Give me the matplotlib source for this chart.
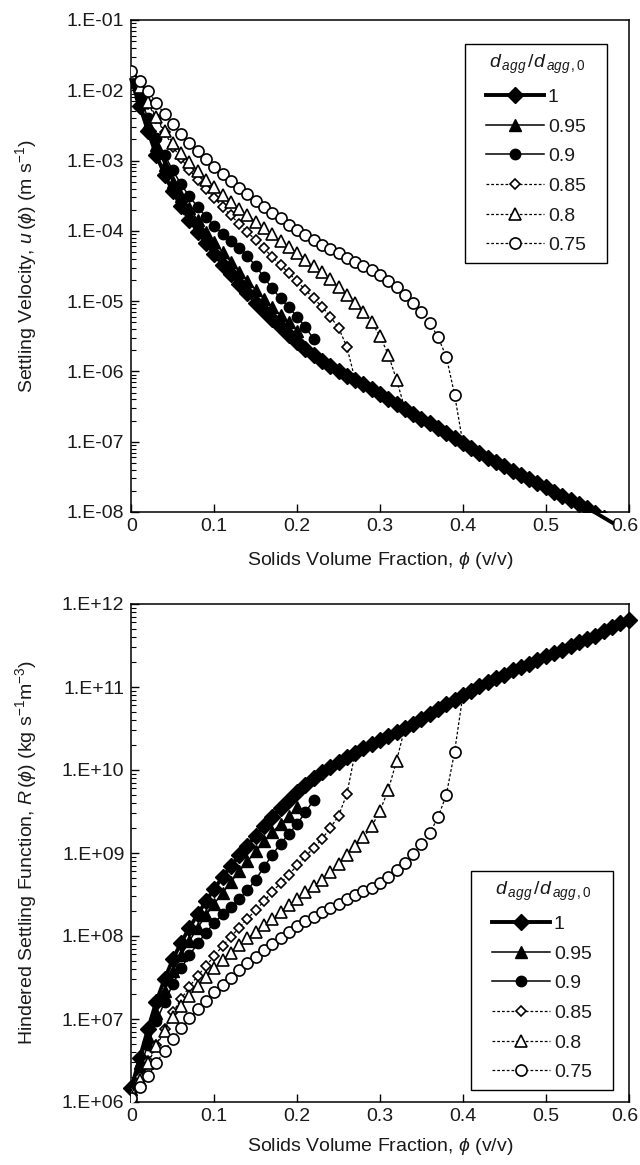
import matplotlib
matplotlib.use('Agg')
import matplotlib.pyplot as plt
import matplotlib.transforms as mtransforms
import numpy as np
from matplotlib.ticker import FuncFormatter, NullFormatter, FixedLocator
from matplotlib.lines import Line2D

plt.rcParams['font.family'] = ['Liberation Sans', 'DejaVu Sans']
plt.rcParams['mathtext.fontset'] = 'custom'
plt.rcParams['mathtext.rm'] = 'Liberation Sans'
plt.rcParams['mathtext.it'] = 'Liberation Sans:italic'
plt.rcParams['mathtext.bf'] = 'Liberation Sans:bold'

# ---------------- data ----------------
PHI = [0.00, 0.01, 0.02, 0.03, 0.04, 0.05, 0.06, 0.07, 0.08, 0.09,
       0.10, 0.11, 0.12, 0.13, 0.14, 0.15, 0.16, 0.17, 0.18, 0.19,
       0.20, 0.21, 0.22, 0.23, 0.24, 0.25, 0.26, 0.27, 0.28, 0.29,
       0.30, 0.31, 0.32, 0.33, 0.34, 0.35, 0.36, 0.37, 0.38, 0.39,
       0.40, 0.41, 0.42, 0.43, 0.44, 0.45, 0.46, 0.47, 0.48, 0.49,
       0.50, 0.51, 0.52, 0.53, 0.54, 0.55, 0.56, 0.57, 0.58, 0.59,
       0.60]

labels = ['1', '0.95', '0.9', '0.85', '0.8', '0.75']

# log10 of settling velocity u(phi) (m/s)
log_u_100 = [-1.85, -2.22, -2.58, -2.92, -3.20, -3.44, -3.65, -3.84, -4.01, -4.17,
             -4.33, -4.48, -4.62, -4.76, -4.89, -5.02, -5.14, -5.26, -5.37, -5.48,
             -5.58, -5.68, -5.77, -5.85, -5.92, -5.99, -6.06, -6.12, -6.18, -6.25,
             -6.32, -6.39, -6.46, -6.53, -6.60, -6.67, -6.74, -6.81, -6.88, -6.95,
             -7.02, -7.09, -7.16, -7.23, -7.29, -7.35, -7.41, -7.47, -7.53, -7.59,
             -7.65, -7.71, -7.77, -7.83, -7.89, -7.95, -8.01, -8.08, -8.15]
log_u_095 = [-1.84, -2.16, -2.48, -2.78, -3.06, -3.30, -3.50, -3.68, -3.85, -4.01,
             -4.16, -4.30, -4.44, -4.58, -4.71, -4.84, -4.97, -5.09, -5.20, -5.30,
             -5.42]
log_u_090 = [-1.82, -2.10, -2.39, -2.68, -2.92, -3.14, -3.34, -3.51, -3.66, -3.80,
             -3.93, -4.04, -4.14, -4.24, -4.36, -4.50, -4.66, -4.82, -4.96, -5.09,
             -5.22, -5.37, -5.54]
log_u_085 = [-1.80, -1.99, -2.19, -2.40, -2.60, -2.80, -2.97, -3.13, -3.27, -3.40,
             -3.53, -3.66, -3.78, -3.90, -4.02, -4.13, -4.25, -4.37, -4.49, -4.60,
             -4.72, -4.84, -4.96, -5.08, -5.22, -5.38, -5.65, -6.12]
log_u_080 = [-1.76, -1.96, -2.17, -2.38, -2.58, -2.75, -2.89, -3.02, -3.15, -3.27,
             -3.38, -3.49, -3.59, -3.69, -3.78, -3.87, -3.96, -4.05, -4.14, -4.23,
             -4.32, -4.41, -4.50, -4.59, -4.69, -4.80, -4.91, -5.03, -5.15, -5.30,
             -5.50, -5.76, -6.12, -6.53]
log_u_075 = [-1.73, -1.87, -2.01, -2.18, -2.34, -2.48, -2.62, -2.75, -2.87, -2.98,
             -3.09, -3.19, -3.29, -3.39, -3.48, -3.57, -3.66, -3.74, -3.82, -3.91,
             -3.99, -4.06, -4.13, -4.20, -4.26, -4.32, -4.38, -4.44, -4.50, -4.56,
             -4.63, -4.71, -4.80, -4.91, -5.03, -5.16, -5.31, -5.51, -5.79, -6.33,
             -7.02]

# log10 of hindered settling function R(phi) (kg s^-1 m^-3)
log_R_100 = [6.17, 6.53, 6.88, 7.21, 7.48, 7.72, 7.92, 8.10, 8.26, 8.42,
             8.57, 8.71, 8.84, 8.97, 9.09, 9.21, 9.32, 9.43, 9.54, 9.64,
             9.73, 9.82, 9.90, 9.97, 10.04, 10.10, 10.16, 10.21, 10.26, 10.31,
             10.36, 10.41, 10.46, 10.51, 10.56, 10.62, 10.67, 10.73, 10.79, 10.84,
             10.90, 10.95, 11.01, 11.06, 11.11, 11.15, 11.20, 11.24, 11.28, 11.33,
             11.37, 11.41, 11.45, 11.49, 11.54, 11.58, 11.62, 11.67, 11.72, 11.77,
             11.81]
log_R_095 = [6.16, 6.47, 6.78, 7.07, 7.34, 7.58, 7.77, 7.94, 8.10, 8.25,
             8.39, 8.52, 8.65, 8.78, 8.90, 9.02, 9.14, 9.25, 9.35, 9.44,
             9.55]
log_R_090 = [6.14, 6.41, 6.69, 6.97, 7.20, 7.42, 7.61, 7.77, 7.91, 8.04,
             8.16, 8.26, 8.35, 8.44, 8.55, 8.68, 8.83, 8.98, 9.11, 9.23,
             9.35, 9.49, 9.64]
log_R_085 = [6.12, 6.30, 6.49, 6.69, 6.88, 7.08, 7.24, 7.39, 7.52, 7.64,
             7.76, 7.88, 7.99, 8.10, 8.21, 8.31, 8.42, 8.53, 8.64, 8.74,
             8.85, 8.96, 9.06, 9.17, 9.30, 9.45, 9.71, 10.21]
log_R_080 = [6.08, 6.27, 6.47, 6.67, 6.86, 7.03, 7.16, 7.28, 7.40, 7.51,
             7.61, 7.71, 7.80, 7.89, 7.97, 8.05, 8.13, 8.21, 8.29, 8.37,
             8.45, 8.53, 8.60, 8.68, 8.77, 8.87, 8.97, 9.08, 9.19, 9.32,
             9.51, 9.76, 10.11, 10.51]
log_R_075 = [6.05, 6.18, 6.31, 6.47, 6.62, 6.76, 6.89, 7.01, 7.12, 7.22,
             7.32, 7.41, 7.50, 7.59, 7.67, 7.75, 7.83, 7.90, 7.97, 8.05,
             8.12, 8.18, 8.23, 8.29, 8.34, 8.39, 8.44, 8.49, 8.54, 8.58,
             8.64, 8.71, 8.79, 8.88, 8.99, 9.11, 9.24, 9.43, 9.70, 10.22,
             10.90]

x_ticks = [0, 0.1, 0.2, 0.3, 0.4, 0.5, 0.6]
x_tick_labels = ['0', '0.1', '0.2', '0.3', '0.4', '0.5', '0.6']
top_decades = [-8, -7, -6, -5, -4, -3, -2, -1]
bot_decades = [6, 7, 8, 9, 10, 11, 12]

top_series = [log_u_100, log_u_095, log_u_090, log_u_085, log_u_080, log_u_075]
bot_series = [log_R_100, log_R_095, log_R_090, log_R_085, log_R_080, log_R_075]
# last point of the dotted series is the junction with the master curve (no marker)
junction = [False, False, False, True, True, True]

# ---------------- styles ----------------
DOT = (0, (2.2, 1.6))
styles = [
    dict(marker='D', ms=8.5, mfc='black', mec='black', mew=1.0, ls='-', lw=2.8),
    dict(marker='^', ms=8, mfc='black', mec='black', mew=1.0, ls='-', lw=1.1),
    dict(marker='o', ms=7.5, mfc='black', mec='black', mew=1.0, ls='-', lw=1.1),
    dict(marker='D', ms=5.5, mfc='white', mec='black', mew=1.2, ls=DOT, lw=0.9),
    dict(marker='^', ms=8, mfc='white', mec='black', mew=1.2, ls=DOT, lw=0.9),
    dict(marker='o', ms=8, mfc='white', mec='black', mew=1.2, ls=DOT, lw=0.9),
]

TXT = '#1a1a1a'
FS = 14

W, H = 640, 1165
fig = plt.figure(figsize=(W / 100, H / 100), dpi=100)
ax1 = fig.add_axes([131.4 / W, 1 - 512 / H, 497.2 / W, 492 / H])
ax2 = fig.add_axes([131.4 / W, 1 - 1102 / H, 497.2 / W, 498 / H])


def draw(ax, series, clip_master_markers):
    for i, (vals, st) in enumerate(zip(series, styles)):
        n = len(vals)
        x = PHI[:n]
        y = 10 ** np.array(vals)
        if i == 0:
            ax.plot(x, y, color='black', ls=st['ls'], lw=st['lw'], clip_on=False, zorder=2)
            ax.plot(x, y, ls='none', marker=st['marker'], ms=st['ms'], mfc=st['mfc'],
                    mec=st['mec'], mew=st['mew'], clip_on=clip_master_markers, zorder=2)
        else:
            me = slice(0, n - 1) if junction[i] else None
            ax.plot(x, y, color='black', ls=st['ls'], lw=st['lw'], marker=st['marker'],
                    ms=st['ms'], mfc=st['mfc'], mec=st['mec'], mew=st['mew'],
                    markevery=me, zorder=3 + i)


def style_axes(ax, decades):
    ax.set_yscale('log')
    ax.set_xlim(0, 0.6)
    ax.set_ylim(10.0 ** decades[0], 10.0 ** decades[-1])
    ax.xaxis.set_major_locator(FixedLocator(x_ticks))
    ax.set_xticklabels(x_tick_labels)
    majors = [10.0 ** d for d in decades]
    minors = [m * 10.0 ** d for d in decades[:-1] for m in range(2, 10)]
    ax.yaxis.set_major_locator(FixedLocator(majors))
    ax.yaxis.set_minor_locator(FixedLocator(minors))
    ax.yaxis.set_minor_formatter(NullFormatter())
    ax.yaxis.set_major_formatter(FuncFormatter(
        lambda v, p: '1.E%+03d' % int(round(np.log10(v)))))
    ax.tick_params(axis='both', which='both', direction='in', top=False, right=False,
                   labelsize=FS, labelcolor=TXT, color='black')
    ax.tick_params(axis='y', which='major', length=6, width=1, pad=5)
    ax.tick_params(axis='y', which='minor', length=3.5, width=0.8)
    ax.tick_params(axis='x', which='major', length=6, width=1, pad=4)
    for s in ax.spines.values():
        s.set_color('black')
        s.set_linewidth(1.1)
    # keep the last x tick label inside the canvas
    last = ax.get_xticklabels()[-1]
    last.set_transform(last.get_transform() +
                       mtransforms.ScaledTranslation(-3 / 72, 0, fig.dpi_scale_trans))


draw(ax1, top_series, True)
draw(ax2, bot_series, False)

style_axes(ax1, top_decades)
style_axes(ax2, bot_decades)

ax1.set_xlabel(r'Solids Volume Fraction, $\phi$ (v/v)', fontsize=FS, color=TXT, labelpad=11)
ax2.set_xlabel(r'Solids Volume Fraction, $\phi$ (v/v)', fontsize=FS, color=TXT, labelpad=8)
ax1.set_ylabel(r'Settling Velocity, $u\,(\phi)$ (m s$^{-1}$)', fontsize=FS, color=TXT)
ax2.set_ylabel(r'Hindered Settling Function, $R\,(\phi)$ (kg s$^{-1}$m$^{-3}$)', fontsize=FS, color=TXT)
ax1.yaxis.set_label_coords(-0.186, 0.5)
ax2.yaxis.set_label_coords(-0.186, 0.5)

handles = [Line2D([], [], color='black', ls=st['ls'], lw=st['lw'], marker=st['marker'],
                  ms=min(st['ms'], 8), mfc=st['mfc'], mec=st['mec'], mew=st['mew']) for st in styles]
title = r'   $d_{\,agg}\,/d_{\,agg\,,0}$   '


def add_legend(ax, anchor):
    leg = ax.legend(handles, labels, title=title, loc='lower right', bbox_to_anchor=anchor,
                    frameon=True, fancybox=False, edgecolor='black', framealpha=1,
                    fontsize=FS, title_fontsize=FS, handlelength=3.0, handletextpad=0.2,
                    labelspacing=0.62, borderpad=0.45, borderaxespad=0)
    leg.get_frame().set_linewidth(1.0)
    for t in leg.get_texts():
        t.set_color(TXT)
    leg.get_title().set_color(TXT)
    leg.set_zorder(20)
    return leg


add_legend(ax1, (0.9566, 0.506))
add_legend(ax2, (0.9686, 0.024))

fig.savefig('out.png', dpi=100)
